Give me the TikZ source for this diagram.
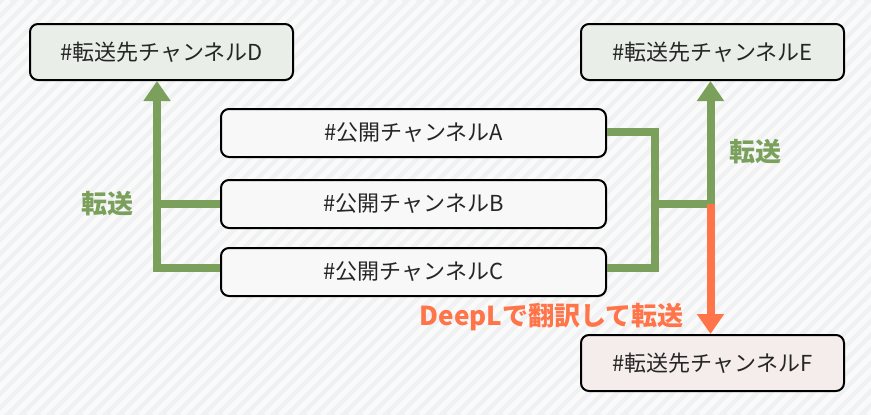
\documentclass[tikz,border=0pt]{standalone}
\usepackage{fontspec}
\setmainfont{Noto Sans CJK JP}
\usetikzlibrary{arrows.meta,positioning}
\definecolor{fwdgreen}{HTML}{7BA05B}
\definecolor{deeplorange}{HTML}{FF7448}
\definecolor{bgbase}{HTML}{F0F1F2}
\definecolor{bgstripe}{HTML}{FAFAFA}
\definecolor{srcfill}{HTML}{F8F8F8}
\definecolor{dstfill}{HTML}{E9EFE8}
\definecolor{trfill}{HTML}{F5EDEB}
\tikzset{
  chan/.style={draw=black, line width=2pt, rounded corners=8pt, fill=srcfill,
    minimum width=385pt, minimum height=48pt, text=black!85,
    font=\fontsize{22}{26}\selectfont},
  dest/.style={chan, minimum width=263pt, minimum height=56pt, fill=dstfill},
  fwd/.style={line width=8pt, draw=fwdgreen},
  tr/.style={line width=8pt, draw=deeplorange},
  tip/.style={-{Triangle[width=26pt,length=20pt]}},
  lbl/.style={text=fwdgreen, font=\bfseries\fontsize{26}{30}\selectfont},
}
\begin{document}
\begin{tikzpicture}[x=1pt,y=-1pt]
  \useasboundingbox (0,0) rectangle (871,415);
  % background
  \fill[bgbase] (0,0) rectangle (871,415);
  \begin{scope}
    \clip (0,0) rectangle (871,415);
    \foreach \s in {-420,-406,...,880}
      \draw[bgstripe, line width=5pt] (\s,415) -- (\s+415,0);
  \end{scope}

  % channels
  \node[chan] (srcA) at (413.5,133) {\#公開チャンネルA};
  \node[chan] (srcB) at (413.5,204) {\#公開チャンネルB};
  \node[chan] (srcC) at (413.5,272) {\#公開チャンネルC};
  \node[dest] (dstD) at (161.5,52) {\#転送先チャンネルD};
  \node[dest] (dstE) at (712.5,52) {\#転送先チャンネルE};
  \node[dest, fill=trfill] (dstF) at (712.5,363) {\#転送先チャンネルF};

  \coordinate (lx) at (157,0);
  \coordinate (rx) at (655,0);
  \coordinate (hub) at (710.5,204);

  % left
  \draw[fwd, tip] ([yshift=4.5pt]srcC.west) -| (lx |- dstD.south);
  \draw[fwd] (srcB.west) -- (srcB.west -| lx);

  % right
  \draw[fwd] ([yshift=1.5pt]srcA.east) -| ([yshift=4.5pt]srcC.east -| rx)
    -- ([yshift=4.5pt]srcC.east);
  \draw[fwd] (srcB.east -| rx) -- (hub);
  \draw[fwd, tip] (hub) -- (hub |- dstE.south);
  \draw[tr, tip] (hub) -- (hub |- dstF.north);

  % labels
  \node[lbl] (fwdL) at (107.5,204) {転送};
  \node[lbl] (fwdR) at (755,152) {転送};
  \node[lbl, text=deeplorange] (trans) at (551.5,317) {DeepLで翻訳して転送};
\end{tikzpicture}
\end{document}
